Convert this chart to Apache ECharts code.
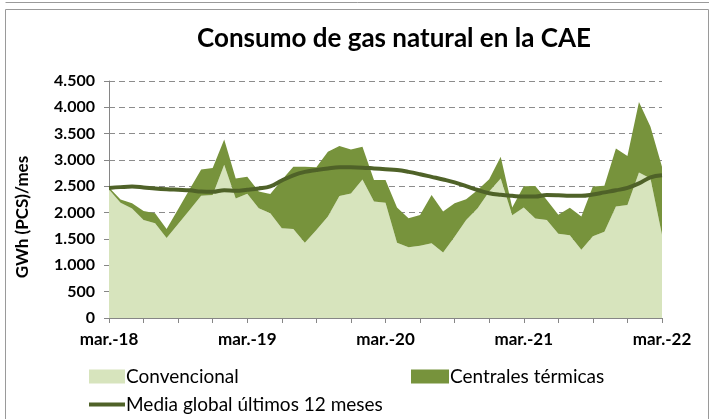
<!DOCTYPE html>
<html>
<head>
<meta charset="utf-8">
<script src="https://cdn.jsdelivr.net/npm/echarts@6/dist/echarts.min.js"></script>
<style>
html,body{margin:0;padding:0;background:#fff;}
#chart{width:713px;height:419px;}
</style>
</head>
<body>
<div id="chart"></div>
<script>
const monthNames = ['mar.','abr.','may.','jun.','jul.','ago.','sep.','oct.','nov.','dic.','ene.','feb.'];
const years = ['18','19','20','21','22','23'];
const categories = [];
for (let i = 0; i < 49; i++) {
  const k = i % 12;
  const yIdx = Math.floor(i / 12) + (k >= 10 ? 1 : 0);
  categories.push(monthNames[k] + '-' + years[yIdx]);
}
// Total (convencional + centrales)
const totalValues = [2480,2250,2180,2030,1990,1690,2065,2445,2820,2850,3390,2650,
  2680,2400,2355,2620,2870,2870,2860,3155,3265,3200,3250,2620,
  2620,2100,1895,1955,2335,2020,2180,2255,2430,2635,3060,2100,
  2500,2505,2240,1960,2095,1925,2495,2510,3220,3075,4100,3630,
  2870];
const convencional = [2440,2190,2080,1860,1800,1520,1785,2050,2320,2335,2910,2270,
  2360,2085,1990,1705,1690,1430,1670,1925,2315,2365,2630,2210,
  2190,1430,1345,1370,1420,1245,1545,1860,2085,2400,2650,1950,
  2100,1890,1860,1600,1570,1295,1550,1640,2115,2145,2765,2650,
  1580];
const centrales = totalValues.map((t, i) => Math.max(0, t - convencional[i]));
const mediaGlobal = [2470,2485,2495,2480,2460,2445,2435,2425,2400,2395,2425,2415,
  2435,2460,2500,2610,2710,2775,2810,2840,2860,2860,2855,2840,
  2825,2810,2775,2730,2680,2630,2575,2505,2430,2370,2340,2320,
  2305,2305,2335,2330,2320,2320,2345,2385,2425,2470,2555,2670,
  2710];

const chart = echarts.init(document.getElementById('chart'));
const font = 'Lato, "Open Sans", sans-serif';
chart.setOption({
  animation: false,
  backgroundColor: '#fff',
  title: {
    text: 'Consumo de gas natural en la CAE',
    left: 389, top: 21, textAlign: 'center',
    textStyle: {fontFamily: font, fontSize: 26, fontWeight: 'bold', color: '#000'}
  },
  graphic: [
    {type: 'rect', shape: {x: 5.5, y: 9.5, width: 703, height: 412}, style: {fill: 'none', stroke: '#9a9a9a', lineWidth: 1}, silent: true},
    {type: 'line', shape: {x1: 5.5, y1: 2.5, x2: 709, y2: 2.5}, style: {stroke: '#9a9a9a', lineWidth: 1}, silent: true},
    {type: 'text', x: 23, y: 217, rotation: Math.PI / 2,
     style: {text: 'GWh (PCS)/mes', font: 'bold 17px ' + font, fill: '#000', textAlign: 'center', textVerticalAlign: 'middle'}}
  ],
  grid: {left: 109, right: 51, top: 81, bottom: 101, containLabel: false},
  legend: [
    {data: ['Convencional'], left: 84, top: 362, icon: 'rect', itemWidth: 36, itemHeight: 14, itemGap: 2,
     textStyle: {fontFamily: font, fontSize: 19, color: '#000', padding: [0,0,0,-4]}},
    {data: ['Centrales térmicas'], left: 406, top: 362, icon: 'rect', itemWidth: 38, itemHeight: 14,
     textStyle: {fontFamily: font, fontSize: 19, color: '#000', padding: [0,0,0,-4]}},
    {data: [{name: 'Media global últimos 12 meses', icon: 'rect'}], left: 84, top: 390, itemWidth: 36, itemHeight: 4,
     textStyle: {fontFamily: font, fontSize: 19, color: '#000', padding: [0,0,0,-4]}}
  ],
  xAxis: {
    type: 'category', data: categories, boundaryGap: false,
    axisLine: {lineStyle: {color: '#868686', width: 1}},
    axisTick: {show: true, length: 5, interval: (i) => i % 3 === 0, lineStyle: {color: '#868686'}},
    axisLabel: {interval: (i) => i % 12 === 0, margin: 13, fontFamily: font, fontSize: 17, fontWeight: 'bold', color: '#000'},
    splitLine: {show: false}
  },
  yAxis: {
    type: 'value', min: 0, max: 4500, interval: 500,
    axisLine: {show: true, lineStyle: {color: '#868686', width: 1}},
    axisTick: {show: true, length: 5, lineStyle: {color: '#868686'}},
    axisLabel: {margin: 14, fontFamily: font, fontSize: 16, fontWeight: 'bold', color: '#000',
      formatter: (v) => v >= 1000 ? Math.floor(v / 1000) + '.' + String(v % 1000).padStart(3, '0') : String(v)},
    splitLine: {show: true, lineStyle: {color: '#8c8c8c', type: [6, 4], width: 1}}
  },
  series: [
    {name: 'Convencional', type: 'line', stack: 'gas', data: convencional, showSymbol: false,
     lineStyle: {width: 0}, itemStyle: {color: '#d7e4bd'}, areaStyle: {color: '#d7e4bd', opacity: 1}, z: 2},
    {name: 'Centrales térmicas', type: 'line', stack: 'gas', data: centrales, showSymbol: false,
     lineStyle: {width: 0}, itemStyle: {color: '#77933c'}, areaStyle: {color: '#77933c', opacity: 1}, z: 2},
    {name: 'Media global últimos 12 meses', type: 'line', data: mediaGlobal, showSymbol: false, smooth: 0.4,
     lineStyle: {width: 4, color: '#4f6228'}, itemStyle: {color: '#4f6228'}, z: 5}
  ]
});
</script>
</body>
</html>
